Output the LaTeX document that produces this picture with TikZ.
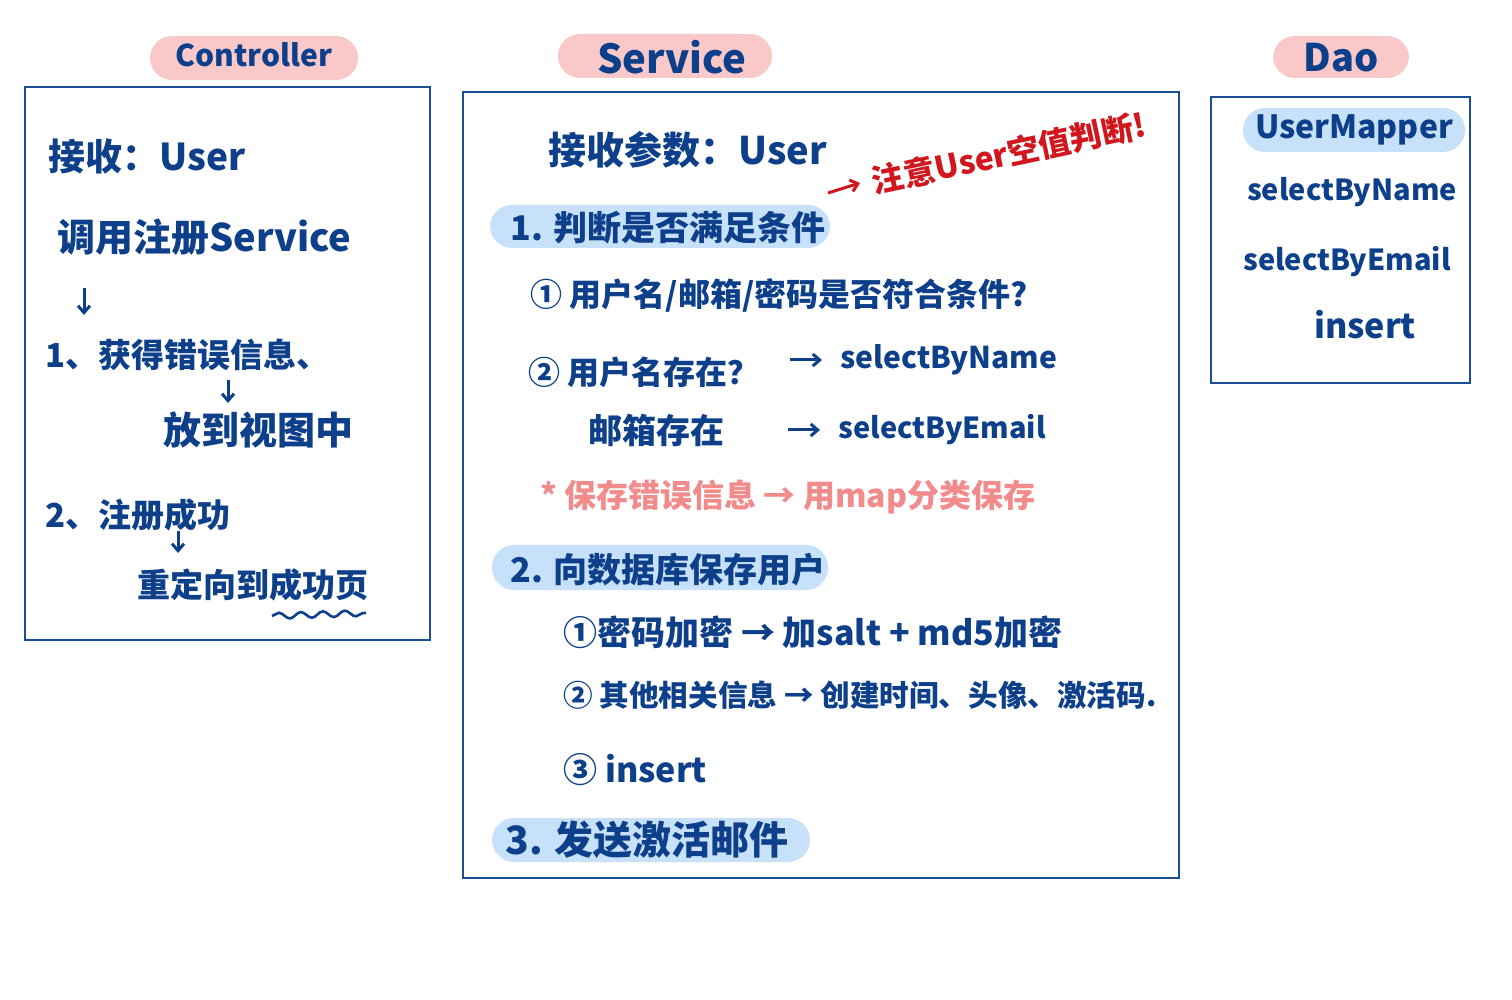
\documentclass[tikz,border=0pt]{standalone}
\usepackage{fontspec}
\setmainfont{Noto Sans CJK SC}
\usetikzlibrary{decorations.pathmorphing,arrows.meta}
\definecolor{ink}{HTML}{0D3F8A}
\definecolor{frame}{HTML}{1A4F93}
\definecolor{pinkpill}{HTML}{F9C8C8}
\definecolor{bluepill}{HTML}{C6E1F9}
\definecolor{redtxt}{HTML}{D2161E}
\definecolor{pinktxt}{HTML}{F28B8B}
\begin{document}
\begin{tikzpicture}[x=0.5pt,y=-0.5pt,
  txt/.style={anchor=west,inner sep=0pt,text=ink},
  ctxt/.style={anchor=center,inner sep=0pt,text=ink},
  fs/.style={font=\bfseries\fontsize{#1}{#1}\selectfont},
  boxframe/.style={draw=frame,line width=1.2pt},
  titlepill/.style={fill=pinkpill,rounded corners=11pt},
  hlpill/.style={fill=bluepill,rounded corners=11pt},
  arr/.style={draw=ink,line width=1.5pt,-{Straight Barb[length=3.5pt,width=6pt]}},
]
\useasboundingbox[fill=white] (0,0) rectangle (1512,1000);

% title pills
\fill[titlepill] (150,36) rectangle (358,80);
\fill[titlepill] (558,34) rectangle (772,78);
\fill[titlepill] (1273,36) rectangle (1409,78);
\node[ctxt,fs=15] (t1) at (254,55) {Controller};
\node[ctxt,fs=20] (t2) at (672,57) {Service};
\node[ctxt,fs=19] (t3) at (1341,58) {Dao};

% frames
\draw[boxframe] (25,87) rectangle (430,640);
\draw[boxframe] (463,92) rectangle (1179,878);
\draw[boxframe] (1211,97) rectangle (1470,383);

% Controller
\node[txt,fs=18.5] (c1) at (48,157) {接收：User};
\node[txt,fs=19] (c2) at (57,237) {调用注册Service};
\node[txt,fs=16.5] (c3) at (45,355) {1、获得错误信息、};
\node[txt,fs=19] (c4) at (163,430) {放到视图中};
\node[txt,fs=16.5] (c5) at (45,515) {2、注册成功};
\node[txt,fs=16.5] (c6) at (137,585) {重定向到成功页};
\coordinate (a1s) at (84,288);
\coordinate (a1e) at (84,315);
\draw[arr] (a1s) -- (a1e);
\coordinate (a2s) at (228,380);
\coordinate (a2e) at (228,403);
\draw[arr] (a2s) -- (a2e);
\coordinate (a3s) at (178,531);
\coordinate (a3e) at (178,553);
\draw[arr] (a3s) -- (a3e);
\coordinate (w1) at (272,616);
\coordinate (w2) at (366,613);
\draw[ink,line width=1.3pt,decorate,decoration={snake,amplitude=1.5pt,segment length=11pt}] (w1) -- (w2);

% Service
\node[txt,fs=19] (s1) at (548,150) {接收参数：User};
\coordinate (r1) at (828,193);
\coordinate (r2) at (860,183);
\draw[draw=redtxt,line width=1.5pt,-{Straight Barb[length=3.5pt,width=6pt]}] (r1) -- (r2);
\node[txt,text=redtxt,fs=16,rotate=12] (red) at (872,182) {注意User空值判断!};

\fill[hlpill] (490,205) rectangle (830,248);
\node[txt,fs=17] (s2) at (510,228) {1. 判断是否满足条件};
\node[txt,fs=16] (s3) at (530,295) {① 用户名/邮箱/密码是否符合条件?};
\node[txt,fs=16] (s4) at (528,372) {② 用户名存在？};
\node[txt,fs=15] (s4b) at (840,360) {selectByName};
\draw[arr] ([xshift=-25pt]s4b.west) -- ([xshift=-9pt]s4b.west);
\node[txt,fs=17] (s5) at (588,430) {邮箱存在};
\node[txt,fs=14.5] (s5b) at (838,430) {selectByEmail};
\draw[arr] ([xshift=-25pt]s5b.west) -- ([xshift=-9pt]s5b.west);
\node[txt,text=pinktxt,fs=16] (s6) at (540,497) {* 保存错误信息 → 用map分类保存};

\fill[hlpill] (492,545) rectangle (828,590);
\node[txt,fs=17] (s7) at (510,570) {2. 向数据库保存用户};
\node[txt,fs=17] (s8) at (563,632) {①密码加密 → 加salt + md5加密};
\node[txt,fs=14.8] (s9) at (563,695) {② 其他相关信息 → 创建时间、头像、激活码.};
\node[txt,fs=17] (s10) at (563,770) {③ insert};

\fill[hlpill] (492,818) rectangle (810,862);
\node[txt,fs=19.5] (s11) at (505,840) {3. 发送激活邮件};

% Dao
\fill[hlpill] (1243,108) rectangle (1465,152);
\node[ctxt,fs=16] (d1) at (1354,130) {UserMapper};
\node[ctxt,fs=14.5] (d2) at (1352,192) {selectByName};
\node[ctxt,fs=14.5] (d3) at (1347,262) {selectByEmail};
\node[ctxt,fs=17] (d4) at (1365,325) {insert};
\end{tikzpicture}
\end{document}
